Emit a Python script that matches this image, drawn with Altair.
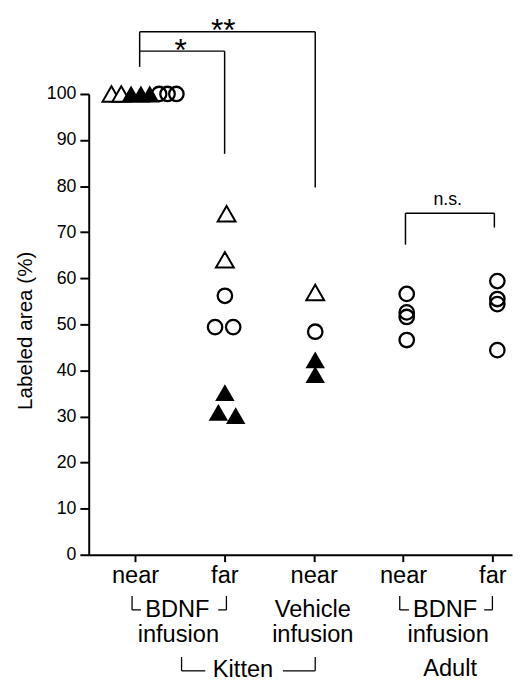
import altair as alt
import pandas as pd

# ---------------- data ----------------
group_pos = [1, 2, 3, 4, 5]
tick_labels = ["near", "far", "near", "near", "far"]

# open triangles
open_tri_group = [1, 1, 2, 2, 3]
open_tri_offset = [-0.264, -0.154, 0.025, 0.006, 0.017]
open_tri_value = [100, 100, 74.0, 64.0, 56.9]

# filled triangles
filled_tri_group = [1, 1, 1, 2, 2, 2, 3, 3]
filled_tri_offset = [-0.044, 0.066, 0.165, 0.006, -0.067, 0.127, 0.017, 0.017]
filled_tri_value = [100, 100, 100, 35.2, 30.9, 30.2, 42.3, 39.1]

# open circles
circle_group = [1, 1, 1, 2, 2, 2, 3, 4, 4, 4, 4, 5, 5, 5, 5]
circle_offset = [0.27, 0.364, 0.463, 0.006, -0.104, 0.099, 0.017,
                 0.041, 0.041, 0.041, 0.041, 0.055, 0.055, 0.055, 0.055]
circle_value = [100, 100, 100, 56.2, 49.4, 49.4, 48.4,
                56.6, 52.6, 51.6, 46.6, 59.4, 55.5, 54.4, 44.4]

# significance brackets (x, x2, y, y2)
sig_x = [1.052, 1.052, 3.017, 1.052, 2.003, 4.027, 4.027, 5.022]
sig_x2 = [3.017, 1.052, 3.017, 2.003, 2.003, 5.022, 4.027, 5.022]
sig_y = [113.5, 113.5, 113.5, 109.3, 109.3, 74.1, 74.1, 74.1]
sig_y2 = [113.5, 105.9, 79.7, 109.3, 87.0, 74.1, 67.3, 71.0]

sig_text = ["*", "**"]
sig_text_x = [1.51, 1.988]
sig_text_y = [107.1, 111.4]
ns_text = ["n.s."]
ns_text_x = [4.5]
ns_text_y = [75.8]

# group annotation brackets below axis
grp_x = [0.967, 0.967, 2.023, 1.932, 3.963, 3.963, 5.0, 4.908, 1.521, 1.521, 3.017, 2.656]
grp_x2 = [0.967, 1.066, 2.023, 2.023, 3.963, 4.066, 5.0, 5.0, 1.521, 1.786, 3.017, 3.017]
grp_y = [-8.97, -11.97, -8.97, -11.97, -8.97, -11.97, -8.97, -11.97, -22.2, -25.2, -22.2, -25.2]
grp_y2 = [-11.97, -11.97, -11.97, -11.97, -11.97, -11.97, -11.97, -11.97, -25.2, -25.2, -25.2, -25.2]

grp_text = ["BDNF", "infusion", "Vehicle", "infusion", "BDNF", "infusion", "Kitten", "Adult"]
grp_text_x = [1.474, 1.485, 2.99, 2.99, 4.471, 4.504, 2.209, 4.526]
grp_text_y = [-13.46, -18.95, -13.46, -18.95, -13.46, -18.95, -26.6, -26.4]

# ---------------- tables ----------------
def pts(groups, offsets, values):
    return pd.DataFrame({"x": [g + o for g, o in zip(groups, offsets)], "y": values})

open_df = pts(open_tri_group, open_tri_offset, open_tri_value)
filled_df = pts(filled_tri_group, filled_tri_offset, filled_tri_value)
circle_df = pts(circle_group, circle_offset, circle_value)
sig_df = pd.DataFrame({"x": sig_x, "x2": sig_x2, "y": sig_y, "y2": sig_y2})
grp_df = pd.DataFrame({"x": grp_x, "x2": grp_x2, "y": grp_y, "y2": grp_y2})
sigt_df = pd.DataFrame({"x": sig_text_x, "y": sig_text_y, "t": sig_text})
nst_df = pd.DataFrame({"x": ns_text_x, "y": ns_text_y, "t": ns_text})
grpt_df = pd.DataFrame({"x": grp_text_x, "y": grp_text_y, "t": grp_text})

FONT = "Liberation Sans"
label_expr = "[" + ",".join("'%s'" % t for t in tick_labels) + "][datum.value - 1]"

xscale = alt.Scale(domain=[0.482, 5.22], nice=False, zero=False)
yscale = alt.Scale(domain=[0, 100], nice=False, zero=False)

xaxis = alt.Axis(values=group_pos, labelExpr=label_expr, title=None, grid=False,
                 tickSize=7, tickWidth=2, domainWidth=2, labelFontSize=24,
                 labelFont=FONT, labelBaseline="alphabetic", labelPadding=21,
                 labelColor="black", tickColor="black", domainColor="black")
yaxis = alt.Axis(values=list(range(0, 101, 10)), title="Labeled area (%)", grid=False,
                 tickSize=9, tickWidth=2, domainWidth=2, labelFontSize=18,
                 labelFont=FONT, labelPadding=4, labelColor="black",
                 tickColor="black", domainColor="black", titleFont=FONT,
                 titleFontSize=21, titleFontWeight="normal", titleColor="black",
                 titleX=-64, titleY=240, titleAngle=-90, titleAlign="center",
                 titleBaseline="middle")

X = alt.X("x:Q", scale=xscale, axis=xaxis)
Y = alt.Y("y:Q", scale=yscale, axis=yaxis)
Xn = alt.X("x:Q", scale=xscale)
Yn = alt.Y("y:Q", scale=yscale)

base_axes = alt.Chart(open_df).mark_point(opacity=0).encode(x=X, y=Y)

open_tri = alt.Chart(open_df).mark_point(
    shape="triangle-up", size=330, filled=True, fill="white", stroke="black",
    strokeWidth=2, opacity=1).encode(x=Xn, y=Yn)
filled_tri = alt.Chart(filled_df).mark_point(
    shape="triangle-up", size=390, filled=True, color="black", opacity=1,
    strokeWidth=0).encode(x=Xn, y=Yn)
circles = alt.Chart(circle_df).mark_point(
    shape="circle", size=216, filled=False, color="black", strokeWidth=2.3,
    opacity=1).encode(x=Xn, y=Yn)

sig_rules = alt.Chart(sig_df).mark_rule(color="black", strokeWidth=1.5).encode(
    x=Xn, x2="x2:Q", y=Yn, y2="y2:Q")
grp_rules = alt.Chart(grp_df).mark_rule(color="black", strokeWidth=1.3).encode(
    x=Xn, x2="x2:Q", y=Yn, y2="y2:Q")

sig_txt = alt.Chart(sigt_df).mark_text(font=FONT, fontSize=32, align="center",
                                       baseline="alphabetic", color="black").encode(
    x=Xn, y=Yn, text="t:N")
ns_txt = alt.Chart(nst_df).mark_text(font=FONT, fontSize=18, align="center",
                                     baseline="alphabetic", color="black").encode(
    x=Xn, y=Yn, text="t:N")
grp_txt = alt.Chart(grpt_df).mark_text(font=FONT, fontSize=24, align="center",
                                       baseline="alphabetic", color="black").encode(
    x=Xn, y=Yn, text="t:N")

chart = alt.layer(base_axes, sig_rules, grp_rules, open_tri, filled_tri, circles,
                  sig_txt, ns_txt, grp_txt).properties(
    width=430, height=468,
    autosize=alt.AutoSizeParams(type="none"),
    padding={"left": 82, "top": 82, "right": 4, "bottom": 128},
    background="white",
).configure_view(stroke=None)

chart.save("out.html", embed_options={"renderer": "svg", "actions": False})
